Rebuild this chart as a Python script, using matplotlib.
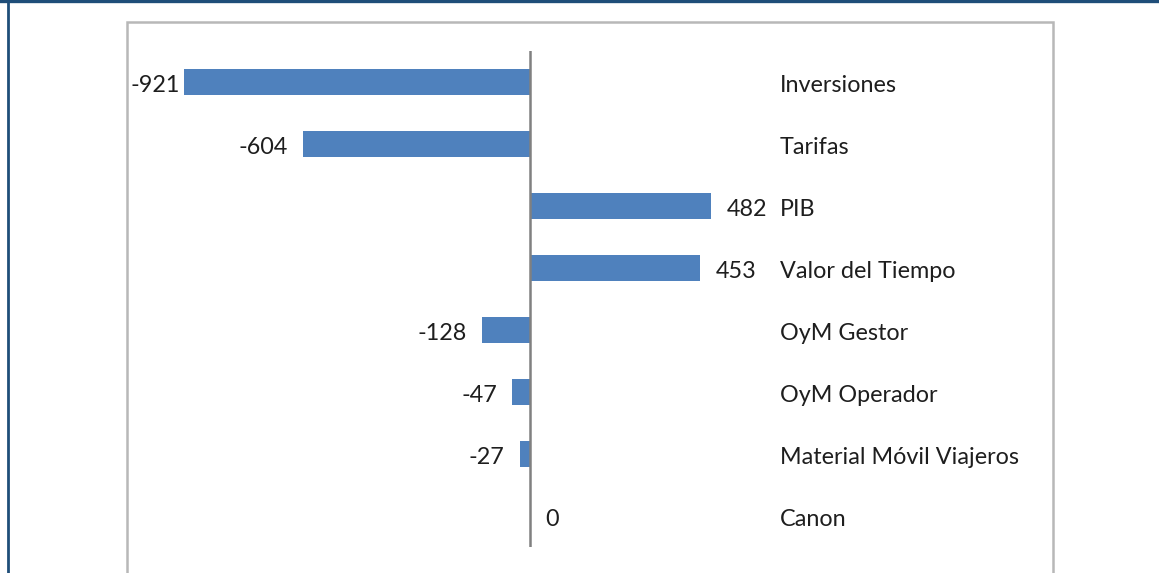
import matplotlib
matplotlib.use("Agg")
import matplotlib.pyplot as plt
from matplotlib.patches import Rectangle
from matplotlib.lines import Line2D

# Sensitivity of the result to each variable
categories = ["Inversiones", "Tarifas", "PIB", "Valor del Tiempo", "OyM Gestor",
              "OyM Operador", "Material Móvil Viajeros", "Canon"]
values = [-921, -604, 482, 453, -128, -47, -27, 0]

W, H = 1159, 573
plt.rcParams["font.family"] = ["Lato", "DejaVu Sans"]
fig = plt.figure(figsize=(W / 100, H / 100), dpi=100)

# pixel helpers (origin top-left)
def fx(px):
    return px / W

def fy(py):
    return 1 - py / H

# outer blue frame (top and left edges only)
fig.add_artist(Line2D([0, 1], [fy(1), fy(1)], color="#1f4e79", lw=2.4))
fig.add_artist(Line2D([fx(7.5), fx(7.5)], [0, 1], color="#1f4e79", lw=2.0))

# grey chart border
box_l, box_r, box_t = 127, 1053, 22
fig.add_artist(Rectangle((fx(box_l), fy(H + 20)), fx(box_r - box_l), fy(box_t) - fy(H + 20),
                         fill=False, edgecolor="#b8b8b8", lw=1.8))

# plot area: zero line at x=530 px, 0.3757 px per unit
zero_px, scale = 530, 0.3757
top_px, bot_px = 51, 547
ax = fig.add_axes([fx(box_l), fy(bot_px), fx(box_r - box_l), fy(top_px) - fy(bot_px)])
ax.set_xlim((box_l - zero_px) / scale, (box_r - zero_px) / scale)
ax.set_ylim(len(categories) - 0.5, -0.5)
ax.axis("off")

ypos = list(range(len(categories)))
ax.barh(ypos, values, height=0.42, color="#4f81bd", edgecolor="none", zorder=2)
ax.axvline(0, color="#808080", lw=1.8, zorder=3)

txt_color = "#1e1e1e"
fs = 16.8
dy = -2.5  # nudge text slightly below the bar centre
fig.canvas.draw()
renderer = fig.canvas.get_renderer()
for y, v in zip(ypos, values):
    if v < 0:
        t = ax.annotate(str(v), (v, y), xytext=(-11, dy), textcoords="offset points",
                        ha="right", va="center", fontsize=fs, color=txt_color)
        bb = t.get_window_extent(renderer)
        if bb.x0 < box_l + 4:
            t.set_position((-3, dy))
    else:
        ax.annotate(str(v), (v, y), xytext=(11, dy), textcoords="offset points",
                    ha="left", va="center", fontsize=fs, color=txt_color)

# category names in a column on the right
cat_x = (780 - box_l) / (box_r - box_l)
for y, name in zip(ypos, categories):
    ax.annotate(name, (cat_x, y), xycoords=ax.get_yaxis_transform(), xytext=(0, dy),
                textcoords="offset points", ha="left", va="center",
                fontsize=fs, color=txt_color)

fig.savefig("out.png", dpi=100)
